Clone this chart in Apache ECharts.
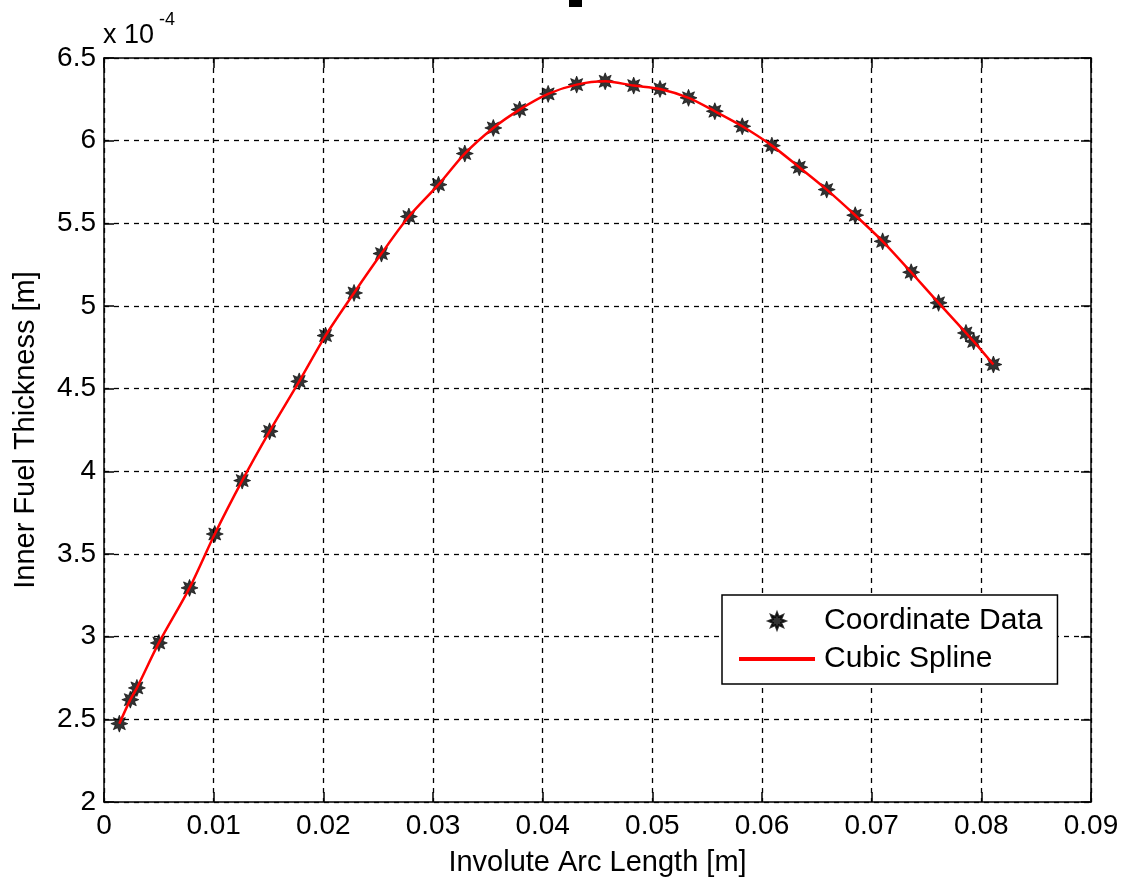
<!DOCTYPE html>
<html>
<head>
<meta charset="utf-8">
<script src="https://cdn.jsdelivr.net/npm/echarts@6/dist/echarts.min.js"></script>
<style>
html,body{margin:0;padding:0;background:#fff;}
#chart{width:1127px;height:882px;}
</style>
</head>
<body>
<div id="chart"></div>
<script>
// Involute arc length [m]
var arcLength = [0.0014, 0.0024, 0.0030, 0.0050, 0.0078, 0.0101, 0.0126, 0.0151, 0.0178, 0.0202,
  0.0228, 0.0253, 0.0278, 0.0305, 0.0329, 0.0355, 0.0379, 0.0405, 0.0431, 0.0457,
  0.0483, 0.0507, 0.0533, 0.0557, 0.0582, 0.0609, 0.0634, 0.0659, 0.0685, 0.0710,
  0.0736, 0.0761, 0.0786, 0.0793, 0.0811];
// Inner fuel thickness [x 1e-4 m]
var thickness = [2.474, 2.619, 2.690, 2.962, 3.295, 3.621, 3.944, 4.242, 4.544, 4.821,
  5.079, 5.317, 5.541, 5.734, 5.922, 6.077, 6.188, 6.283, 6.339, 6.359,
  6.333, 6.313, 6.259, 6.178, 6.087, 5.970, 5.839, 5.704, 5.549, 5.391,
  5.204, 5.019, 4.837, 4.786, 4.646];
var xAxisRange = [0, 0.09, 0.01];
var yAxisRange = [2, 6.5, 0.5];
var seriesNames = ['Coordinate Data', 'Cubic Spline'];
var axisNames = ['Involute Arc Length [m]', 'Inner Fuel Thickness [m]'];

var pts = arcLength.map(function (x, i) { return [x, thickness[i]]; });
var FONT = "'Liberation Sans', Arial, sans-serif";
var star = 'path://M20,10L14.9,12.03L17.07,17.07L12.03,14.9L10,20L7.97,14.9L2.93,17.07L5.1,12.03L0,10L5.1,7.97L2.93,2.93L7.97,5.1L10,0L12.03,5.1L17.07,2.93L14.9,7.97Z';
function fmt(v) { return String(Number(v.toFixed(3))); }

var chart = echarts.init(document.getElementById('chart'), null, {renderer: 'canvas'});
var axisLine = {show: true, onZero: false, lineStyle: {color: '#000', width: 1.5}};
var tick = {show: true, inside: true, length: 10, lineStyle: {color: '#000', width: 1.5}};
var grid = {show: true, lineStyle: {color: '#000', width: 1.3, type: [5, 5]}};

chart.setOption({
  animation: false,
  backgroundColor: '#fff',
  textStyle: {fontFamily: FONT},
  grid: {left: 104, right: 36, top: 58, bottom: 80, containLabel: false},
  graphic: [
    {type: 'text', left: 103, top: 22, style: {text: 'x 10', font: '27px ' + FONT, fill: '#000'}},
    {type: 'text', left: 159, top: 11, style: {text: '-4', font: '18px ' + FONT, fill: '#000'}},
    {type: 'rect', left: 569, top: 0, shape: {width: 13, height: 7}, style: {fill: '#000'}}
  ],
  legend: {
    orient: 'vertical', left: 722, top: 595,
    padding: [11, 15, 10, 15], itemGap: 8,
    itemWidth: 76, itemHeight: 17,
    backgroundColor: '#fff', borderColor: '#000', borderWidth: 1.5,
    textStyle: {fontSize: 30, color: '#000', fontFamily: FONT, padding: [0, 0, 0, 4]},
    data: [
      {name: seriesNames[0]},
      {name: seriesNames[1], itemStyle: {opacity: 0, color: 'rgba(0,0,0,0)', borderWidth: 0},
       lineStyle: {color: '#ff0000', width: 4}}
    ]
  },
  xAxis: [{
    type: 'value', position: 'bottom',
    min: xAxisRange[0], max: xAxisRange[1], interval: xAxisRange[2],
    axisLine: axisLine, axisTick: tick, splitLine: grid,
    axisLabel: {fontSize: 28, color: '#000', margin: 10, fontFamily: FONT, formatter: fmt},
    name: axisNames[0], nameLocation: 'middle', nameGap: 46,
    nameTextStyle: {fontSize: 29, color: '#000', fontFamily: FONT}
  }, {
    type: 'value', position: 'top',
    min: xAxisRange[0], max: xAxisRange[1], interval: xAxisRange[2],
    axisLine: axisLine, axisTick: tick, splitLine: {show: false}, axisLabel: {show: false}
  }],
  yAxis: [{
    type: 'value', position: 'left',
    min: yAxisRange[0], max: yAxisRange[1], interval: yAxisRange[2],
    axisLine: axisLine, axisTick: tick, splitLine: grid,
    axisLabel: {fontSize: 28, color: '#000', margin: 8, fontFamily: FONT, formatter: fmt},
    name: axisNames[1], nameLocation: 'middle', nameGap: 64,
    nameTextStyle: {fontSize: 29, color: '#000', fontFamily: FONT}
  }, {
    type: 'value', position: 'right',
    min: yAxisRange[0], max: yAxisRange[1], interval: yAxisRange[2],
    axisLine: axisLine, axisTick: tick, splitLine: {show: false}, axisLabel: {show: false}
  }],
  series: [{
    name: seriesNames[0], type: 'scatter', data: pts,
    symbol: star, symbolSize: 17, symbolKeepAspect: true,
    itemStyle: {color: '#000', borderColor: '#000', borderWidth: 0.8}, z: 3
  }, {
    name: seriesNames[1], type: 'line', data: pts,
    smooth: 0.3, symbol: 'none', showSymbol: false,
    lineStyle: {color: '#ff0000', width: 2.5}, itemStyle: {color: '#ff0000'}, z: 4
  }]
});
</script>
</body>
</html>
